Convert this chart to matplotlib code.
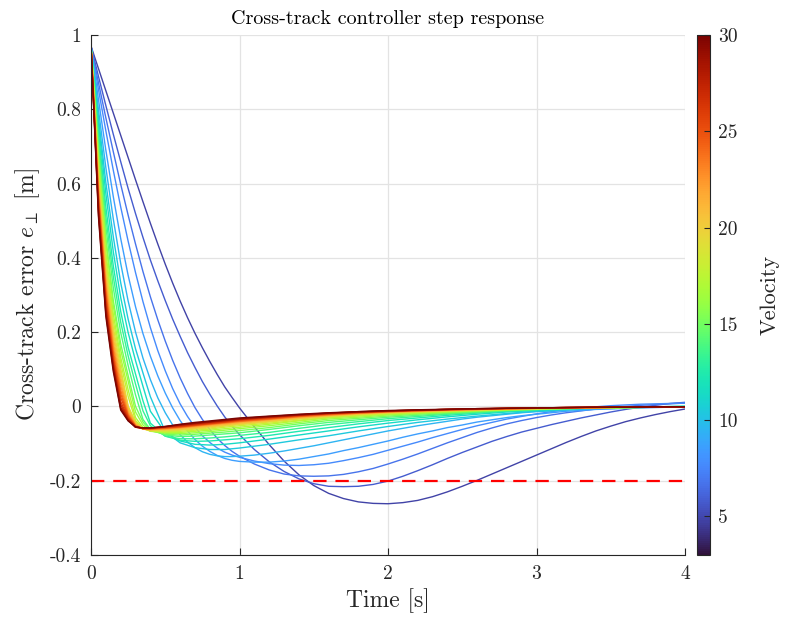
import matplotlib
matplotlib.use("Agg")
import matplotlib.pyplot as plt
from matplotlib import cm, colors

plt.rcParams["font.family"] = "serif"
plt.rcParams["font.serif"] = ["cmr10"]
plt.rcParams["mathtext.fontset"] = "cm"
plt.rcParams["axes.unicode_minus"] = False

# time samples [s]; the slow (low velocity) curves were read on a finer grid
time_fine = [0, 0.05, 0.1, 0.15, 0.2, 0.25, 0.3, 0.35, 0.4, 0.45, 0.5, 0.55, 0.6, 0.65, 0.7,
             0.75, 0.8, 0.85, 0.9, 0.95, 1.0, 1.1, 1.2, 1.3, 1.4, 1.5, 1.6, 1.7, 1.8, 1.9,
             2.0, 2.1, 2.2, 2.3, 2.4, 2.5, 2.6, 2.7, 2.8, 2.9, 3.0, 3.1, 3.2, 3.3, 3.4, 3.5,
             3.6, 3.7, 3.8, 3.9, 4.0]
time_s = [0, 0.05, 0.1, 0.15, 0.2, 0.25, 0.3, 0.35, 0.4, 0.5, 0.6, 0.7, 0.8, 0.9, 1.0,
          1.2, 1.4, 1.6, 1.8, 2.0, 2.2, 2.4, 2.6, 2.8, 3.0, 3.2, 3.4, 3.6, 3.8, 4.0]

velocities = [3, 4, 5, 6, 7, 8, 9, 10, 11, 12, 13, 14, 15, 16, 17, 18, 19, 20,
              21, 22, 23, 24, 25, 26, 27, 28, 29, 30]

# cross-track error [m], on time_fine
e_v03 = [0.97, 0.91, 0.85, 0.79, 0.73, 0.67, 0.61, 0.551, 0.493, 0.437, 0.383, 0.332, 0.284, 0.239, 0.197, 0.158, 0.121, 0.086, 0.053, 0.024, -0.004,
         -0.055, -0.103, -0.147, -0.184, -0.213, -0.234, -0.248, -0.257, -0.261, -0.262, -0.259, -0.253, -0.243, -0.23, -0.215, -0.199, -0.182, -0.165, -0.148, -0.131, -0.114, -0.097, -0.081, -0.066, -0.053, -0.041, -0.031, -0.022, -0.014, -0.007]
e_v04 = [0.97, 0.889, 0.81, 0.733, 0.659, 0.587, 0.519, 0.455, 0.394, 0.338, 0.285, 0.235, 0.189, 0.145, 0.105, 0.067, 0.033, 0.001, -0.028, -0.053, -0.076,
         -0.116, -0.149, -0.175, -0.195, -0.208, -0.215, -0.216, -0.215, -0.21, -0.201, -0.188, -0.173, -0.157, -0.14, -0.124, -0.109, -0.094, -0.081, -0.069, -0.059, -0.049, -0.04, -0.031, -0.023, -0.015, -0.008, -0.002, 0.003, 0.008, 0.011]
e_v05 = [0.97, 0.872, 0.777, 0.686, 0.598, 0.515, 0.437, 0.363, 0.295, 0.233, 0.176, 0.124, 0.077, 0.035, -0.003, -0.035, -0.062, -0.086, -0.105, -0.121, -0.134,
         -0.155, -0.171, -0.182, -0.187, -0.188, -0.187, -0.183, -0.176, -0.167, -0.155, -0.142, -0.128, -0.113, -0.098, -0.084, -0.07, -0.058, -0.047, -0.038, -0.03, -0.023, -0.017, -0.012, -0.007, -0.003, 0.0, 0.003, 0.005, 0.007, 0.009]
e_v06 = [0.97, 0.854, 0.742, 0.636, 0.537, 0.445, 0.36, 0.282, 0.212, 0.15, 0.096, 0.048, 0.007, -0.027, -0.056, -0.079, -0.097, -0.112, -0.123, -0.131, -0.137,
         -0.147, -0.154, -0.158, -0.159, -0.157, -0.153, -0.146, -0.138, -0.129, -0.118, -0.107, -0.096, -0.084, -0.073, -0.062, -0.052, -0.043, -0.034, -0.027, -0.02, -0.014, -0.009, -0.005, -0.001, 0.002, 0.004, 0.006, 0.007, 0.008, 0.009]
e_v07 = [0.97, 0.827, 0.69, 0.565, 0.452, 0.353, 0.268, 0.196, 0.135, 0.082, 0.036, -0.004, -0.038, -0.066, -0.089, -0.107, -0.121, -0.132, -0.14, -0.145, -0.148,
         -0.15, -0.15, -0.147, -0.142, -0.135, -0.128, -0.119, -0.111, -0.102, -0.093, -0.083, -0.074, -0.066, -0.057, -0.05, -0.042, -0.036, -0.03, -0.025, -0.021, -0.017, -0.013, -0.011, -0.008, -0.007, -0.005, -0.004, -0.003, -0.002, -0.002]
e_v08 = [0.97, 0.8, 0.643, 0.505, 0.385, 0.284, 0.2, 0.13, 0.072, 0.023, -0.017, -0.05, -0.076, -0.096, -0.111, -0.122, -0.129, -0.133, -0.135, -0.135, -0.134,
         -0.131, -0.126, -0.12, -0.113, -0.106, -0.098, -0.09, -0.082, -0.074, -0.066, -0.059, -0.052, -0.046, -0.04, -0.034, -0.029, -0.025, -0.021, -0.017, -0.014, -0.012, -0.01, -0.008, -0.006, -0.005, -0.004, -0.003, -0.002, -0.001, -0.001]

# cross-track error [m], on time_s
e_v09 = [0.97, 0.779, 0.603, 0.457, 0.333, 0.235, 0.155, 0.09, 0.026, -0.068, -0.098, -0.111, -0.116, -0.116, -0.112, -0.102, -0.09, -0.079, -0.066, -0.054, -0.043, -0.034, -0.026, -0.019, -0.013, -0.009, -0.005, -0.003, -0.001, 0.0]
e_v10 = [0.97, 0.761, 0.573, 0.417, 0.293, 0.199, 0.123, 0.054, -0.013, -0.07, -0.093, -0.102, -0.104, -0.102, -0.098, -0.088, -0.077, -0.066, -0.055, -0.045, -0.036, -0.028, -0.021, -0.015, -0.011, -0.007, -0.004, -0.002, -0.001, 0.0]
e_v11 = [0.97, 0.74, 0.537, 0.379, 0.256, 0.159, 0.087, 0.015, -0.045, -0.08, -0.091, -0.094, -0.093, -0.09, -0.087, -0.078, -0.067, -0.057, -0.047, -0.038, -0.031, -0.024, -0.018, -0.013, -0.009, -0.006, -0.004, -0.002, -0.001, 0.0]
e_v12 = [0.97, 0.723, 0.51, 0.35, 0.227, 0.136, 0.06, -0.012, -0.052, -0.08, -0.087, -0.087, -0.085, -0.082, -0.078, -0.07, -0.059, -0.049, -0.041, -0.033, -0.027, -0.021, -0.016, -0.012, -0.008, -0.006, -0.004, -0.002, -0.001, 0.0]
e_v13 = [0.97, 0.705, 0.484, 0.32, 0.199, 0.11, 0.031, -0.035, -0.062, -0.077, -0.081, -0.08, -0.077, -0.074, -0.071, -0.062, -0.052, -0.043, -0.036, -0.029, -0.024, -0.019, -0.015, -0.011, -0.008, -0.006, -0.004, -0.003, -0.002, -0.001]
e_v14 = [0.97, 0.684, 0.456, 0.286, 0.169, 0.083, 0.0, -0.042, -0.065, -0.075, -0.077, -0.075, -0.072, -0.069, -0.065, -0.057, -0.047, -0.038, -0.032, -0.026, -0.021, -0.017, -0.013, -0.01, -0.008, -0.006, -0.004, -0.003, -0.002, -0.001]
e_v15 = [0.97, 0.673, 0.44, 0.271, 0.152, 0.068, -0.015, -0.05, -0.066, -0.072, -0.073, -0.071, -0.068, -0.064, -0.06, -0.052, -0.043, -0.034, -0.029, -0.023, -0.019, -0.015, -0.012, -0.009, -0.007, -0.005, -0.004, -0.003, -0.002, -0.001]
e_v16 = [0.97, 0.654, 0.415, 0.249, 0.132, 0.045, -0.03, -0.057, -0.067, -0.07, -0.07, -0.067, -0.064, -0.06, -0.056, -0.048, -0.039, -0.031, -0.026, -0.021, -0.017, -0.014, -0.011, -0.009, -0.007, -0.005, -0.004, -0.003, -0.002, -0.001]
e_v17 = [0.97, 0.64, 0.398, 0.231, 0.118, 0.027, -0.038, -0.059, -0.066, -0.068, -0.067, -0.064, -0.061, -0.056, -0.052, -0.045, -0.037, -0.029, -0.024, -0.019, -0.016, -0.013, -0.01, -0.008, -0.006, -0.005, -0.004, -0.003, -0.002, -0.001]
e_v18 = [0.97, 0.625, 0.379, 0.213, 0.103, 0.001, -0.042, -0.06, -0.065, -0.066, -0.064, -0.061, -0.058, -0.053, -0.049, -0.042, -0.034, -0.027, -0.022, -0.018, -0.015, -0.012, -0.01, -0.008, -0.006, -0.004, -0.003, -0.002, -0.002, -0.001]
e_v19 = [0.97, 0.613, 0.363, 0.199, 0.091, -0.002, -0.045, -0.061, -0.064, -0.064, -0.062, -0.059, -0.055, -0.051, -0.047, -0.04, -0.032, -0.026, -0.021, -0.017, -0.014, -0.011, -0.009, -0.007, -0.006, -0.004, -0.003, -0.002, -0.002, -0.001]
e_v20 = [0.97, 0.603, 0.349, 0.186, 0.079, -0.007, -0.047, -0.061, -0.063, -0.062, -0.06, -0.057, -0.053, -0.049, -0.045, -0.038, -0.031, -0.025, -0.02, -0.016, -0.013, -0.011, -0.009, -0.007, -0.005, -0.004, -0.003, -0.002, -0.002, -0.001]
e_v21 = [0.97, 0.592, 0.337, 0.173, 0.067, -0.013, -0.049, -0.061, -0.062, -0.061, -0.058, -0.055, -0.051, -0.047, -0.043, -0.036, -0.029, -0.024, -0.019, -0.015, -0.013, -0.01, -0.008, -0.007, -0.005, -0.004, -0.003, -0.002, -0.001, -0.001]
e_v22 = [0.97, 0.583, 0.325, 0.161, 0.056, -0.018, -0.051, -0.061, -0.062, -0.06, -0.057, -0.053, -0.049, -0.045, -0.041, -0.035, -0.028, -0.023, -0.018, -0.015, -0.012, -0.01, -0.008, -0.006, -0.005, -0.004, -0.003, -0.002, -0.001, -0.001]
e_v23 = [0.97, 0.573, 0.312, 0.149, 0.044, -0.022, -0.052, -0.06, -0.061, -0.059, -0.056, -0.052, -0.048, -0.044, -0.04, -0.034, -0.027, -0.022, -0.018, -0.014, -0.012, -0.009, -0.008, -0.006, -0.005, -0.004, -0.003, -0.002, -0.001, -0.001]
e_v24 = [0.97, 0.565, 0.301, 0.139, 0.034, -0.025, -0.053, -0.06, -0.06, -0.058, -0.055, -0.051, -0.047, -0.043, -0.039, -0.033, -0.026, -0.021, -0.017, -0.014, -0.011, -0.009, -0.007, -0.006, -0.005, -0.004, -0.003, -0.002, -0.001, -0.001]
e_v25 = [0.97, 0.555, 0.29, 0.129, 0.024, -0.028, -0.054, -0.059, -0.06, -0.057, -0.054, -0.05, -0.046, -0.042, -0.037, -0.031, -0.025, -0.02, -0.016, -0.013, -0.011, -0.009, -0.007, -0.006, -0.004, -0.003, -0.003, -0.002, -0.001, -0.001]
e_v26 = [0.97, 0.545, 0.279, 0.122, 0.013, -0.031, -0.055, -0.059, -0.059, -0.056, -0.053, -0.049, -0.045, -0.041, -0.036, -0.03, -0.024, -0.019, -0.016, -0.013, -0.01, -0.008, -0.007, -0.005, -0.004, -0.003, -0.002, -0.002, -0.001, -0.001]
e_v27 = [0.97, 0.537, 0.269, 0.114, 0.005, -0.034, -0.056, -0.059, -0.059, -0.055, -0.051, -0.047, -0.043, -0.039, -0.035, -0.029, -0.023, -0.019, -0.015, -0.012, -0.01, -0.008, -0.007, -0.005, -0.004, -0.003, -0.002, -0.002, -0.001, -0.001]
e_v28 = [0.97, 0.529, 0.258, 0.108, -0.002, -0.036, -0.056, -0.058, -0.058, -0.055, -0.05, -0.046, -0.042, -0.038, -0.034, -0.028, -0.023, -0.018, -0.015, -0.012, -0.01, -0.008, -0.006, -0.005, -0.004, -0.003, -0.002, -0.002, -0.001, -0.001]
e_v29 = [0.97, 0.52, 0.25, 0.101, -0.006, -0.038, -0.056, -0.058, -0.058, -0.054, -0.049, -0.045, -0.041, -0.037, -0.033, -0.027, -0.022, -0.018, -0.014, -0.012, -0.01, -0.008, -0.006, -0.005, -0.004, -0.003, -0.002, -0.002, -0.001, -0.001]
e_v30 = [0.97, 0.512, 0.242, 0.094, -0.01, -0.039, -0.055, -0.058, -0.058, -0.054, -0.048, -0.043, -0.039, -0.035, -0.031, -0.026, -0.021, -0.017, -0.014, -0.011, -0.009, -0.0075, -0.006, -0.005, -0.004, -0.003, -0.002, -0.002, -0.001, -0.001]

curves = [e_v03, e_v04, e_v05, e_v06, e_v07, e_v08, e_v09, e_v10, e_v11, e_v12,
          e_v13, e_v14, e_v15, e_v16, e_v17, e_v18, e_v19, e_v20, e_v21, e_v22,
          e_v23, e_v24, e_v25, e_v26, e_v27, e_v28, e_v29, e_v30]

limit_line = -0.2
x_ticks = [0, 1, 2, 3, 4]
y_ticks = [-0.4, -0.2, 0, 0.2, 0.4, 0.6, 0.8, 1]
y_tick_labels = ["-0.4", "-0.2", "0", "0.2", "0.4", "0.6", "0.8", "1"]
cbar_ticks = [5, 10, 15, 20, 25, 30]

dark = "#262626"
cmap = matplotlib.colormaps["turbo"]
norm = colors.Normalize(vmin=3, vmax=30)
line_norm = colors.Normalize(vmin=1, vmax=30)  # line colours sit a bit up the map

fig = plt.figure(figsize=(7.87, 6.26), dpi=100)
ax = fig.add_axes([91 / 787, 71 / 626, 594 / 787, 520 / 626])

for v, e in zip(velocities, curves):
    t = time_fine if len(e) == len(time_fine) else time_s
    ax.plot(t, e, color=cmap(line_norm(v)), lw=1.0)

ax.axhline(limit_line, color="red", lw=1.6, ls=(0, (6, 4)))

ax.set_xlim(0, 4)
ax.set_ylim(-0.4, 1)
ax.set_xticks(x_ticks)
ax.set_xticklabels([str(t) for t in x_ticks])
ax.set_yticks(y_ticks)
ax.set_yticklabels(y_tick_labels)
ax.grid(True, color="#e3e3e3", lw=0.9)
ax.set_axisbelow(True)
for side in ["top", "right"]:
    ax.spines[side].set_visible(False)
for side in ["left", "bottom"]:
    ax.spines[side].set_color(dark)
    ax.spines[side].set_linewidth(0.8)
ax.tick_params(direction="in", length=5, width=0.8, colors=dark, labelsize=14, pad=7)

ax.set_title("Cross-track controller step response", fontsize=14.5, color="black", pad=8)
ax.set_xlabel("Time [s]", fontsize=17, color=dark, labelpad=4)
ax.set_ylabel(r"Cross-track error $e_\perp$ [m]", fontsize=17, color=dark, labelpad=6)

cax = fig.add_axes([697 / 787, 71 / 626, 13 / 787, 520 / 626])
sm = cm.ScalarMappable(norm=norm, cmap=cmap)
cb = fig.colorbar(sm, cax=cax)
cb.set_ticks(cbar_ticks)
cb.set_ticklabels([str(t) for t in cbar_ticks])
cb.ax.tick_params(direction="in", length=4, width=0.8, colors=dark, labelsize=14, pad=6)
cb.outline.set_linewidth(0.8)
cb.outline.set_edgecolor(dark)
cb.set_label("Velocity", fontsize=16, color=dark, labelpad=16)

fig.savefig("out.png", dpi=100)
